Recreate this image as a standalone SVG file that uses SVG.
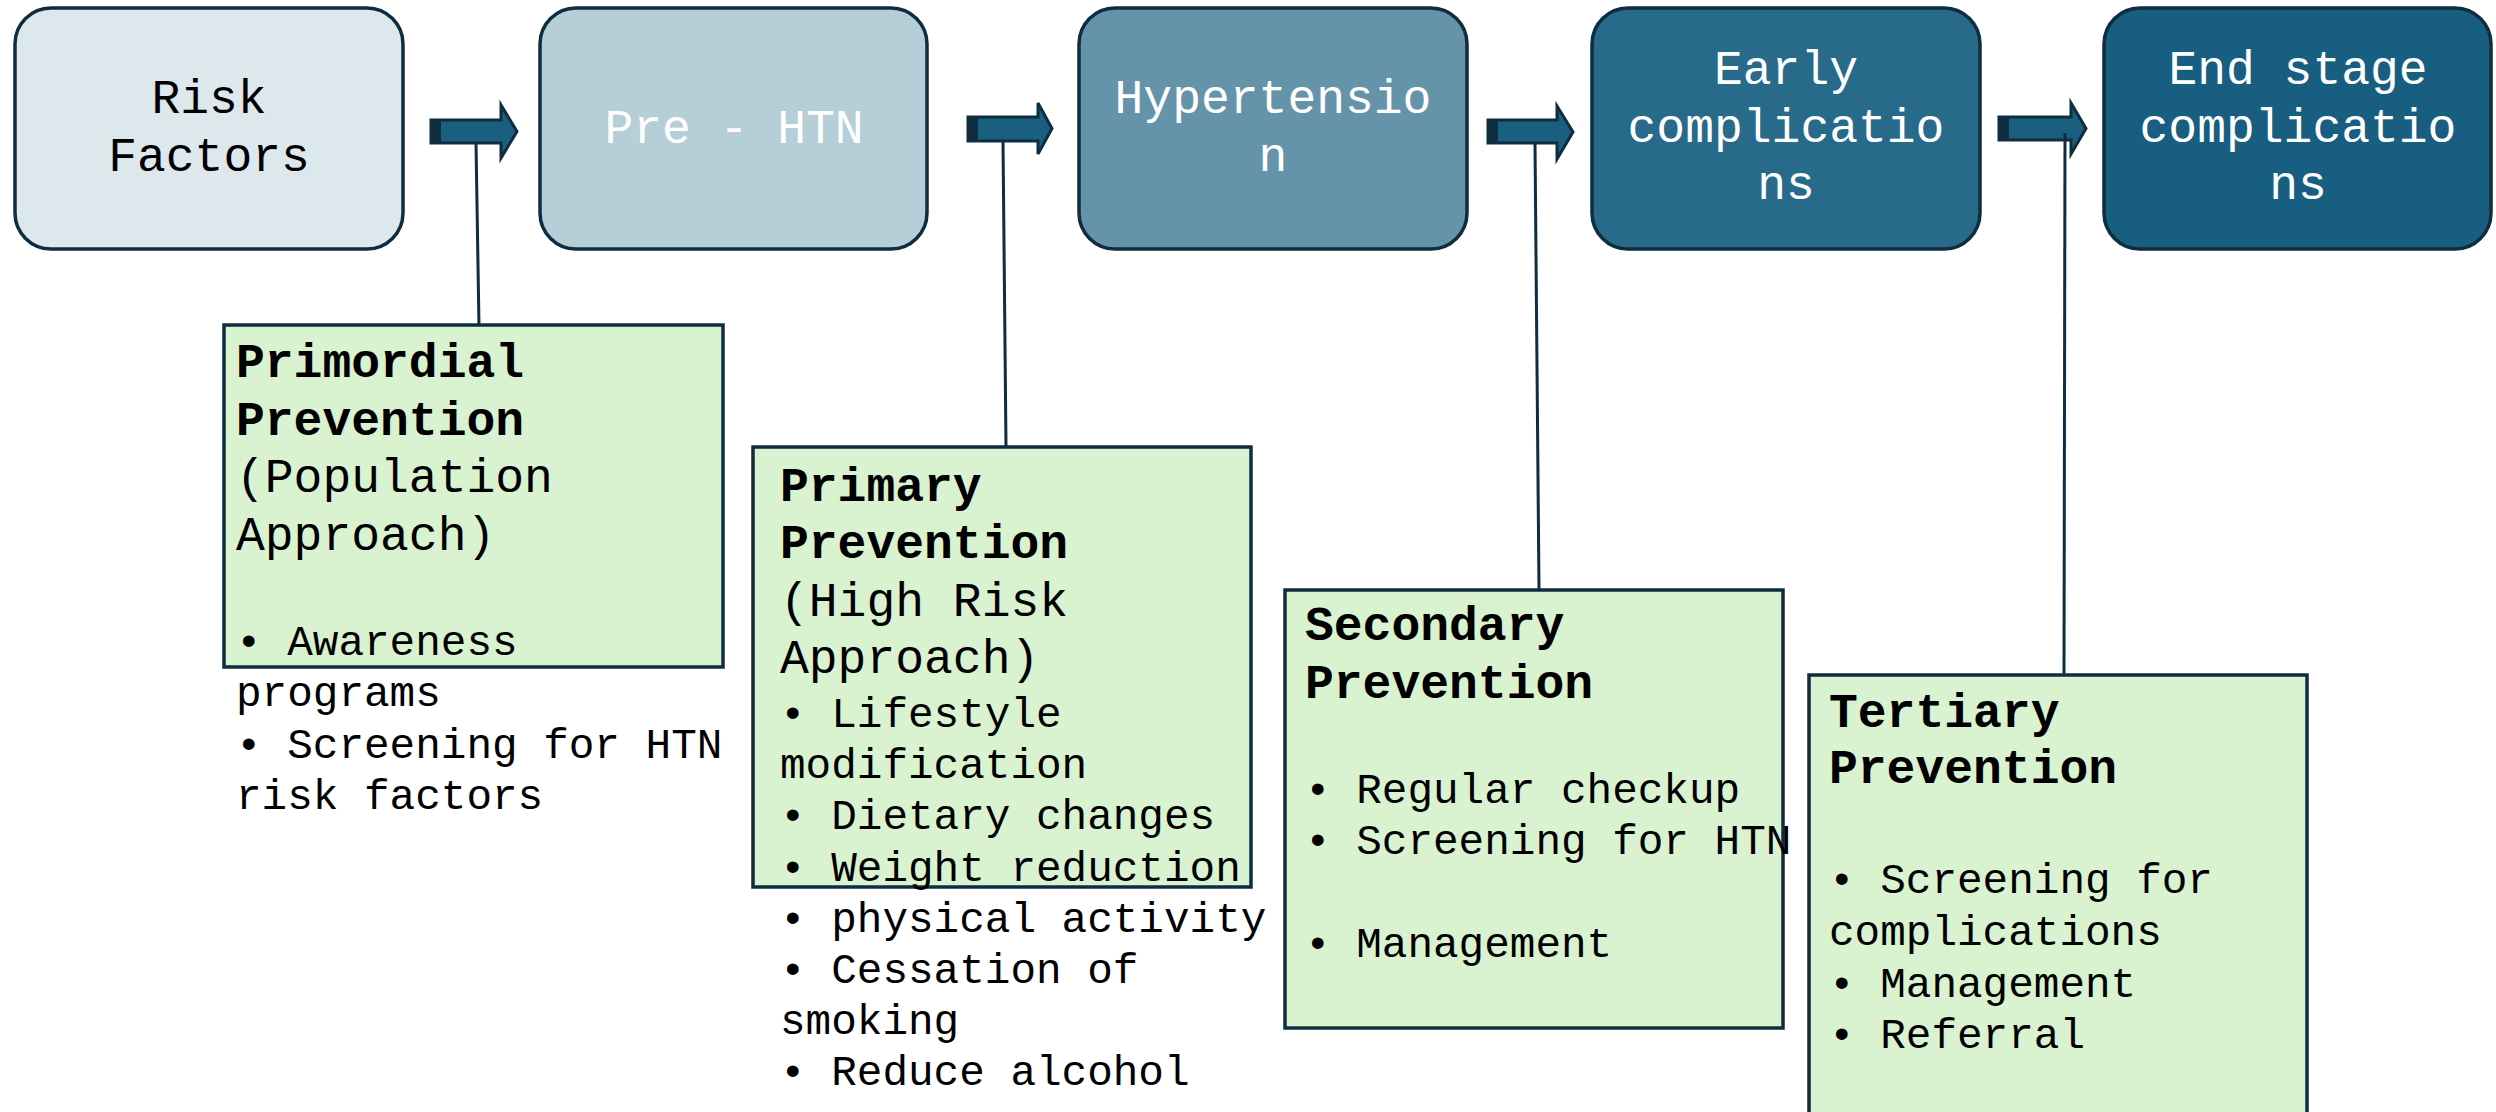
<svg xmlns="http://www.w3.org/2000/svg" width="2496" height="1112" viewBox="0 0 2496 1112">
<style>
.stage{stroke:#0F2D3F;stroke-width:3.5}
.lbl{font-family:"Liberation Mono","Courier New",monospace;font-size:48px;text-anchor:middle}
.wt{fill:#FFFFFF}
.dk{fill:#000000}
.pbox{fill:#D9F2D0;stroke:#0F2D3F;stroke-width:3.5}
.t{font-family:"Liberation Mono","Courier New",monospace;fill:#000000}
.h{font-size:48px;font-weight:bold}
.s{font-size:48px}
.b{font-size:42.67px}
.arr{fill:#1A5E80;stroke:#0F2D3F;stroke-width:3;stroke-linejoin:miter}
.end{fill:#0F2D3F}
.ln{stroke:#0F2D3F;stroke-width:3;fill:none}
</style>
<rect width="2496" height="1112" fill="#FFFFFF"/>

<g id="risk-factors">
<rect class="stage" x="15" y="8" width="388" height="241" rx="36" fill="#DDE8ED"/>
<text class="lbl dk"><tspan x="209" y="113">Risk</tspan><tspan x="209" y="171">Factors</tspan></text>
</g>
<g id="pre-htn">
<rect class="stage" x="540" y="8" width="387" height="241" rx="36" fill="#B5CED8"/>
<text class="lbl wt" x="734" y="143">Pre - HTN</text>
</g>
<g id="hypertension">
<rect class="stage" x="1079" y="8" width="388" height="241" rx="36" fill="#6594AA"/>
<text class="lbl wt"><tspan x="1273" y="113">Hypertensio</tspan><tspan x="1273" y="171">n</tspan></text>
</g>
<g id="early-complications">
<rect class="stage" x="1592" y="8" width="388" height="241" rx="36" fill="#276A8A"/>
<text class="lbl wt"><tspan x="1786" y="84">Early</tspan><tspan x="1786" y="142">complicatio</tspan><tspan x="1786" y="199">ns</tspan></text>
</g>
<g id="end-stage-complications">
<rect class="stage" x="2104" y="8" width="387" height="241" rx="36" fill="#175E80"/>
<text class="lbl wt"><tspan x="2298" y="84">End stage</tspan><tspan x="2298" y="142">complicatio</tspan><tspan x="2298" y="199">ns</tspan></text>
</g>

<g id="connectors">
<polygon class="arr" points="431,120 501,120 501,105 517,131.5 501,158 501,143 431,143"/>
<rect class="end" x="431" y="120" width="10" height="23"/>
<polygon class="arr" points="968,117 1038,117 1038,103 1052,128.5 1038,154 1038,141 968,141"/>
<rect class="end" x="968" y="117" width="10" height="24"/>
<polygon class="arr" points="1488,120 1557,120 1557,106 1573,132 1557,159 1557,143 1488,143"/>
<rect class="end" x="1488" y="120" width="10" height="23"/>
<polygon class="arr" points="1999,117 2071,117 2071,103 2086,128.5 2071,154 2071,140 1999,140"/>
<rect class="end" x="1999" y="117" width="10" height="23"/>
<line class="ln" x1="476" y1="143" x2="479" y2="326"/>
<line class="ln" x1="1003" y1="141" x2="1006" y2="447"/>
<line class="ln" x1="1535" y1="143" x2="1539" y2="590"/>
<line class="ln" x1="2065" y1="133" x2="2064" y2="675"/>
</g>

<g id="primordial-prevention">
<rect class="pbox" x="224" y="325" width="499" height="342"/>
<text class="t">
<tspan class="h" x="236" y="377">Primordial</tspan>
<tspan class="h" x="236" y="434.6">Prevention</tspan>
<tspan class="s" x="236" y="492.2">(Population</tspan>
<tspan class="s" x="236" y="549.8">Approach)</tspan>
<tspan class="b" x="236" y="655">• Awareness</tspan>
<tspan class="b" x="236" y="706">programs</tspan>
<tspan class="b" x="236" y="757.5">• Screening for HTN</tspan>
<tspan class="b" x="236" y="808.5">risk factors</tspan>
</text>
</g>

<g id="primary-prevention">
<rect class="pbox" x="753" y="447" width="498" height="440"/>
<text class="t">
<tspan class="h" x="780" y="500.5">Primary</tspan>
<tspan class="h" x="780" y="558">Prevention</tspan>
<tspan class="s" x="780" y="615.7">(High Risk</tspan>
<tspan class="s" x="780" y="673.3">Approach)</tspan>
<tspan class="b" x="780" y="727">• Lifestyle</tspan>
<tspan class="b" x="780" y="778.2">modification</tspan>
<tspan class="b" x="780" y="829.4">• Dietary changes</tspan>
<tspan class="b" x="780" y="880.6">• Weight reduction</tspan>
<tspan class="b" x="780" y="931.8">• physical activity</tspan>
<tspan class="b" x="780" y="983">• Cessation of</tspan>
<tspan class="b" x="780" y="1034.2">smoking</tspan>
<tspan class="b" x="780" y="1085.4">• Reduce alcohol</tspan>
</text>
</g>

<g id="secondary-prevention">
<rect class="pbox" x="1285" y="590" width="498" height="438"/>
<text class="t">
<tspan class="h" x="1305" y="640">Secondary</tspan>
<tspan class="h" x="1305" y="698">Prevention</tspan>
<tspan class="b" x="1305" y="803">• Regular checkup</tspan>
<tspan class="b" x="1305" y="854">• Screening for HTN</tspan>
<tspan class="b" x="1305" y="957">• Management</tspan>
</text>
</g>

<g id="tertiary-prevention">
<rect class="pbox" x="1809" y="675" width="498" height="470"/>
<text class="t">
<tspan class="h" x="1829" y="727">Tertiary</tspan>
<tspan class="h" x="1829" y="783">Prevention</tspan>
<tspan class="b" x="1829" y="893">• Screening for</tspan>
<tspan class="b" x="1829" y="945">complications</tspan>
<tspan class="b" x="1829" y="997">• Management</tspan>
<tspan class="b" x="1829" y="1048">• Referral</tspan>
</text>
</g>
</svg>
